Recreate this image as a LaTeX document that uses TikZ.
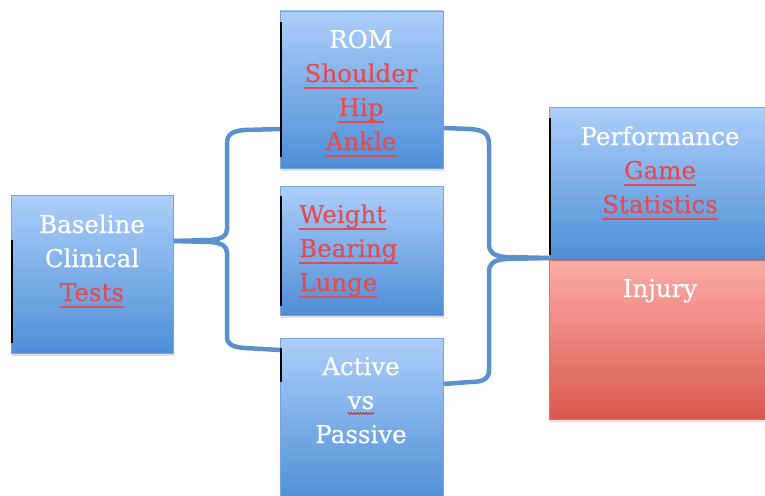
\documentclass[tikz,border=0pt]{standalone}
\usepackage{fontspec}
\setmainfont{DejaVu Serif}[FakeBold=0.4]
\usetikzlibrary{calc,shadows,decorations.pathmorphing}

\definecolor{boxtop}{RGB}{172,206,250}
\definecolor{boxbot}{RGB}{78,142,214}
\definecolor{boxedge}{RGB}{118,163,220}
\definecolor{injtop}{RGB}{251,172,167}
\definecolor{injbot}{RGB}{219,88,78}
\definecolor{injedge}{RGB}{214,112,106}
\definecolor{linkblue}{RGB}{90,145,205}
\definecolor{labelred}{RGB}{228,76,82}
\definecolor{spellred}{RGB}{222,30,30}

% underline drawn a fixed distance below the baseline of a label node
\newcommand\undl[1]{\draw[ulpen] ([yshift=-6pt]#1.base west) -- ([yshift=-6pt]#1.base east);}

\begin{document}
\begin{tikzpicture}[x=1pt,y=-1pt,
  panel/.style={rectangle, inner sep=0pt, outer sep=0pt, anchor=north west,
    line width=0.8pt,
    drop shadow={opacity=0.25, shadow xshift=0.6pt, shadow yshift=-2.5pt}},
  bluebox/.style={panel, draw=boxedge, top color=boxtop, bottom color=boxbot},
  redbox/.style={panel, draw=injedge, top color=injtop, bottom color=injbot},
  word/.style={inner sep=0pt, anchor=base, font=\fontsize{24.5}{30}\selectfont, text=white},
  redword/.style={word, text=labelred},
  ulpen/.style={labelred, line width=1.4pt},
  edgemark/.style={black, line width=1.1pt},
  brace/.style={linkblue, line width=4.5pt, line join=round},
]
\path[use as bounding box, fill=white] (0,0) rectangle (765,495);

% brackets joining the boxes
\coordinate (lsplit) at (173,241);
\draw[brace] (lsplit) -- (210,240) .. controls (222,239) and (227,236) .. (227,229)
  -- (227,144) .. controls (227,134) and (232,131) .. (245,130) -- (280,129);
\draw[brace] (lsplit) -- (210,242) .. controls (222,243) and (227,246) .. (227,253)
  -- (227,337) .. controls (227,344) and (232,347) .. (245,348) -- (280,350);
\coordinate (rjoin) at (549,258);
\draw[brace] (443,128) -- (470,129) .. controls (485,130) and (489,134) .. (489,145)
  -- (489,244) .. controls (489,252) and (493,256) .. (506,257) -- (rjoin);
\draw[brace] (rjoin) -- (506,259) .. controls (493,260) and (489,264) .. (489,272)
  -- (489,370) .. controls (489,378) and (485,382) .. (470,382) -- (443,384);

% boxes
\node[bluebox, minimum width=162pt, minimum height=158pt] (base) at (11,195) {};
\node[bluebox, minimum width=163pt, minimum height=157pt] (rom) at (280,11) {};
\node[bluebox, minimum width=163pt, minimum height=129pt] (wbl) at (280,186) {};
\node[bluebox, minimum width=163pt, minimum height=165pt] (act) at (280,338) {};
\node[bluebox, minimum width=222pt, minimum height=153pt] (perf) at (549,107) {};
\node[redbox, minimum width=222pt, minimum height=159pt] (inj) at (549,260) {};

% thin dark strokes along some left edges
\draw[edgemark] ($(base.north west)+(1,45)$) -- ($(base.north west)+(1,148)$);
\draw[edgemark] ($(rom.north west)+(1,11)$) -- ($(rom.north west)+(1,146)$);
\draw[edgemark] ($(wbl.north west)+(1,10)$) -- ($(wbl.north west)+(1,120)$);
\draw[edgemark] ($(act.north west)+(1,10)$) -- ($(act.north west)+(1,44)$);
\draw[edgemark] ($(perf.north west)+(1,11)$) -- ($(perf.north west)+(1,148)$);

% Baseline Clinical Tests
\node[word] (b1) at (92,233) {Baseline};
\node[word] (b2) at (92,267) {Clinical};
\node[redword] (b3) at (92,301) {Tests}; \undl{b3}

% ROM
\node[word] (r1) at (361,48) {ROM};
\node[redword] (r2) at (361,82) {Shoulder}; \undl{r2}
\node[redword] (r3) at (361,116) {Hip}; \undl{r3}
\node[redword] (r4) at (361,150) {Ankle}; \undl{r4}

% Weight Bearing Lunge
\node[redword, anchor=base west] (w1) at (299,223) {Weight}; \undl{w1}
\node[redword, anchor=base west] (w2) at (299,257) {Bearing}; \undl{w2}
\node[redword, anchor=base west] (w3) at (299,291) {Lunge}; \undl{w3}

% Active vs Passive
\node[word] (a1) at (361,375) {Active};
\node[word] (a2) at (361,409) {vs};
\draw[spellred, line width=0.8pt, decorate,
  decoration={snake, amplitude=0.9pt, segment length=3pt}]
  ([yshift=-4.5pt]a2.base west) -- ([yshift=-4.5pt]a2.base east);
\node[word] (a3) at (361,443) {Passive};

% Performance / Injury
\node[word] (p1) at (660,145) {Performance};
\node[redword] (p2) at (660,179) {Game}; \undl{p2}
\node[redword] (p3) at (660,213) {Statistics}; \undl{p3}
\node[word] (i1) at (660,297) {Injury};
\end{tikzpicture}
\end{document}
